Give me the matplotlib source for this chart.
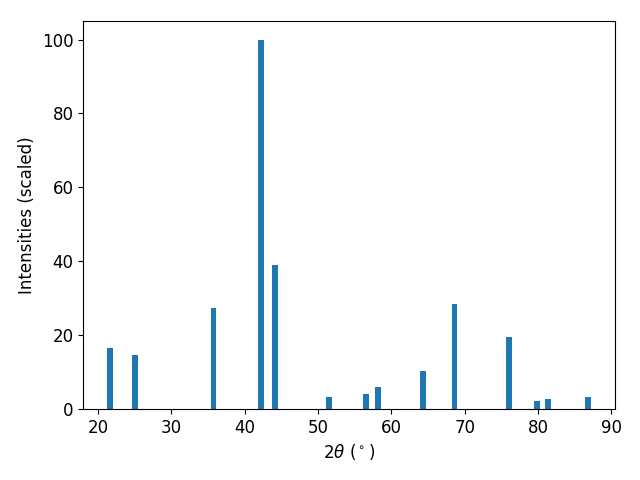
import matplotlib
matplotlib.use("Agg")
import matplotlib.pyplot as plt

# peak positions (2theta, degrees) and scaled intensities
two_theta = [21.67, 25.07, 35.75, 42.22, 44.12, 51.47, 56.5, 58.14,
             64.26, 68.6, 76.0, 79.9, 81.3, 86.8]
intensity = [16.5, 14.6, 27.4, 100.0, 39.0, 3.25, 4.07, 5.96,
             10.3, 28.5, 19.5, 2.17, 2.7, 3.25]

plt.rcParams['font.size'] = 12

fig, ax = plt.subplots(figsize=(6.4, 4.8), dpi=100)
ax.bar(two_theta, intensity, width=0.8, color='#1f77b4')
ax.set_xlabel(r"$2\theta$ ($^\circ$)")
ax.set_ylabel("Intensities (scaled)")
fig.subplots_adjust(left=0.13, right=0.961, top=0.956, bottom=0.148)
plt.savefig("out.png", dpi=100)
